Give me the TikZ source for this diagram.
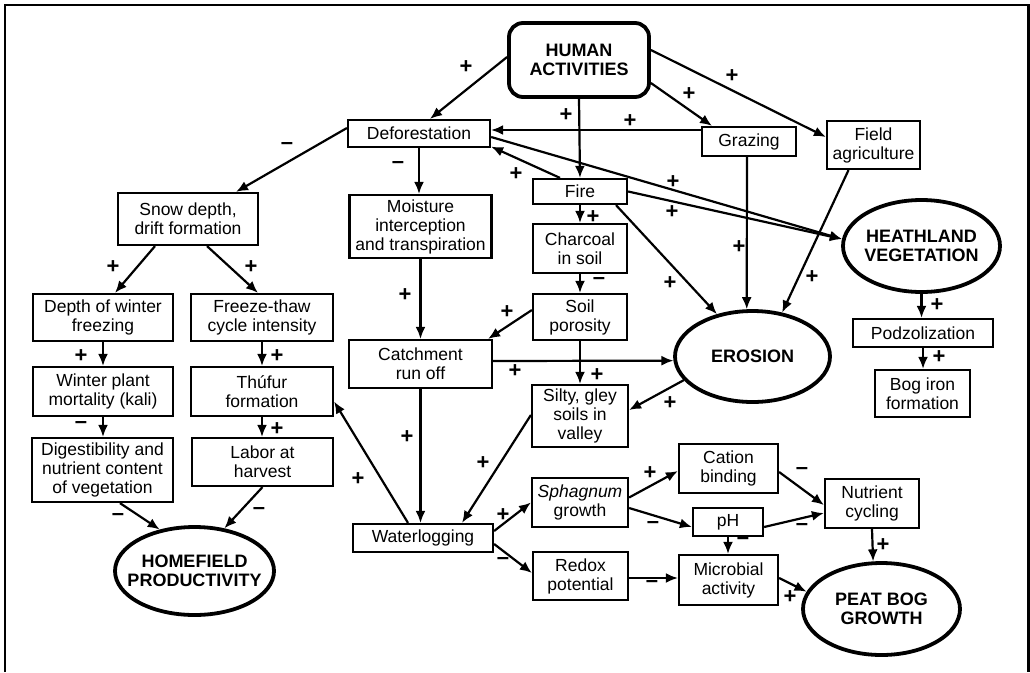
\documentclass[tikz,border=0pt]{standalone}
\usepackage{fontspec}
\setmainfont{Liberation Sans}
\usetikzlibrary{shapes.geometric,arrows.meta}
\newcommand\myrg{\fontsize{17.5}{19}\selectfont}
\newcommand\mybd{\fontsize{18}{19}\selectfont\bfseries}
\newcommand\mysg{\fontsize{22}{22}\selectfont\bfseries}
\newcommand\zw[1]{\makebox[0pt]{#1}}
\begin{document}
\begin{tikzpicture}[x=1pt,y=-1pt,
 box/.style={draw, line width=2.2pt, inner sep=1pt, align=center, font=\myrg},
 sz/.style 2 args={minimum width=#1pt, minimum height=#2pt},
 ell/.style={draw, ellipse, line width=3.8pt, inner sep=0pt, align=center, font=\mybd},
 sgn/.style={font=\mysg, inner sep=0pt},
 arr/.style={draw, line width=2.2pt, -{Latex[length=12pt,width=10pt]}},
]
\useasboundingbox (0,0) rectangle (1030,672);
\draw[line width=2.2pt] (5,672) -- (5,5) -- (1028.5,5) -- (1028.5,672);

% nodes
\node[box, rounded corners=14pt, line width=3.8pt, font=\mybd, sz={140}{74}] (ha) at (579,60) {HUMAN\\ACTIVITIES};
\node[box, sz={142}{27}] (defo) at (419,133.5) {Deforestation};
\node[box, sz={94}{29}] (graz) at (749,141.5) {Grazing};
\node[box, sz={93}{48}] (field) at (873.5,145) {Field\\agriculture};
\node[box, sz={94}{25}] (fire) at (580,191.5) {Fire};
\node[box, sz={94}{49}] (char) at (580,248.5) {Charcoal\\in soil};
\node[box, sz={94}{46}] (poro) at (580,317) {Soil\\porosity};
\node[box, sz={96}{62}] (silty) at (580,416) {Silty, gley\\soils in\\valley};
\node[ell, sz={155}{91}] (eros) at (752.5,356.5) {\zw{EROSION}};
\node[ell, sz={157}{92}] (heath) at (921.5,246) {\zw{HEATHLAND}\\\zw{VEGETATION}};
\node[box, sz={140}{28}] (podz) at (923,333) {Podzolization};
\node[box, sz={95}{47}] (bog) at (922.5,393.5) {Bog iron\\formation};
\node[box, sz={140}{52}] (snow) at (188,219) {Snow depth,\\drift formation};
\node[box, sz={142}{63}] (moist) at (420.5,226.5) {Moisture\\interception\\and transpiration};
\node[box, sz={140}{47}] (depth) at (103,317.5) {Depth of winter\\freezing};
\node[box, sz={142}{47}] (freeze) at (262,317.5) {Freeze-thaw\\cycle intensity};
\node[box, sz={140}{49}] (winter) at (103,391.5) {Winter plant\\mortality (kali)};
\node[box, sz={142}{49}] (thufur) at (262,391.5) {Thúfur\\formation};
\node[box, sz={141}{64}] (digest) at (102.5,470) {Digestibility and\\nutrient content\\of vegetation};
\node[box, sz={141}{48}] (labor) at (262.5,462) {Labor at\\harvest};
\node[ell, sz={159}{88}] (home) at (194.5,571) {\zw{HOMEFIELD}\\\zw{PRODUCTIVITY}};
\node[box, sz={143}{48}] (catch) at (420.5,364) {Catchment\\run off};
\node[box, sz={140}{28}] (water) at (423,538) {Waterlogging};
\node[box, sz={96}{49}] (sphag) at (580,502.5) {\textit{Sphagnum}\\growth};
\node[box, sz={95}{48}] (redox) at (580.5,576) {Redox\\potential};
\node[box, sz={99}{49}] (cation) at (728.5,468.5) {Cation\\binding};
\node[box, sz={70}{28}] (ph) at (728,522) {pH};
\node[box, sz={99}{50}] (micro) at (728.5,580) {Microbial\\activity};
\node[box, sz={94}{49}] (nutr) at (872,503.5) {Nutrient\\cycling};
\node[ell, sz={157}{92}] (peat) at (881.5,609) {\zw{PEAT BOG}\\\zw{GROWTH}};

% connectors
\path[arr] ([yshift=3pt]ha.west) -- ([xshift=11pt]defo.north);
\path[arr] (ha.south) -- (fire.north);
\path[arr] ([yshift=-23pt]ha.east) -- ([xshift=-37pt]graz.north);
\path[arr] ([yshift=10pt]ha.east) -- ([yshift=8pt]field.west);
\path[arr] ([yshift=11.5pt]graz.west) -- ([yshift=3.5pt]defo.east);
\path[arr] ([xshift=-20pt]fire.north) -- ([yshift=1.5pt]defo.south east);
\path[arr] ([yshift=-3.5pt]defo.east) -- (heath.175);
\path[arr] (fire.east) -- (heath.175);
\path[arr] ([xshift=36pt]fire.south) -- (eros.130);
\path[arr] ([xshift=-2pt]graz.south) -- (eros.97);
\path[arr] ([xshift=-25pt]field.south) -- (eros.56);
\path[arr] (fire.south) -- (char.north);
\path[arr] (char.south) -- (poro.north);
\path[arr] ([yshift=7pt]poro.west) -- ([xshift=-5pt]catch.north east);
\path[arr] (poro.south) -- (silty.north);
\path[arr] ([yshift=3pt]catch.east) -- (eros.183);
\path[arr] (eros.199) -- ([yshift=6pt]silty.east);
\path[arr] (defo.south) -- (defo.south |- moist.north);
\path[arr] ([yshift=5.5pt]defo.west) -- ([xshift=48pt]snow.north);
\path[arr] (moist.south) -- (catch.north);
\path[arr] (catch.south) -- (catch.south |- water.north);
\path[arr] ([yshift=1pt]silty.west) -- ([xshift=39pt]water.north);
\path[arr] ([xshift=-15pt]water.north) -- ([yshift=-10pt]thufur.east);
\path[arr] ([xshift=-33pt]snow.south) -- ([xshift=12pt]depth.north);
\path[arr] ([xshift=19pt]snow.south) -- ([xshift=-4pt]freeze.north);
\path[arr] (depth.south) -- (winter.north);
\path[arr] (freeze.south) -- (thufur.north);
\path[arr] (winter.south) -- (winter.south |- digest.north);
\path[arr] (thufur.south) -- (thufur.south |- labor.north);
\path[arr] ([xshift=17.5pt]digest.south) -- (home.130);
\path[arr] (labor.south) -- (home.55);
\path[arr] ([yshift=7pt]water.east) -- (sphag.west);
\path[arr] ([yshift=-6pt]water.east) -- ([yshift=3pt]redox.west);
\path[arr] ([yshift=5pt]sphag.east) -- ([yshift=-2.5pt]cation.west);
\path[arr] ([yshift=-5.5pt]sphag.east) -- ([yshift=-5pt]ph.west);
\path[arr] ([yshift=-3.5pt]cation.east) -- ([yshift=-1.5pt]nutr.west);
\path[arr] ([yshift=-5pt]ph.east) -- ([yshift=-9.5pt]nutr.west);
\path[arr] (ph.south) -- (ph.south |- micro.north);
\path[arr] ([yshift=-2pt]redox.east) -- ([yshift=2pt]micro.west);
\path[arr] (nutr.south) -- (peat.100);
\path[arr] ([yshift=2pt]micro.east) -- (peat.167);
\path[arr] (heath.south) -- (heath.south |- podz.north);
\path[arr] (podz.south) -- (podz.south |- bog.north);

% signs
\node[sgn] (s1) at (466,67) {+};
\node[sgn] (s2) at (566,115) {+};
\node[sgn] (s3) at (689,94) {+};
\node[sgn] (s4) at (732,76) {+};
\node[sgn] (s5) at (630,121) {+};
\node[sgn] (s6) at (516,174) {+};
\node[sgn] (s7) at (673,182) {+};
\node[sgn] (s8) at (672,212) {+};
\node[sgn] (s9) at (670,283) {+};
\node[sgn] (s10) at (739,247) {+};
\node[sgn] (s11) at (812,277) {+};
\node[sgn] (s12) at (593,217) {+};
\node[sgn] (s13) at (599,281) {\textendash};
\node[sgn] (s14) at (507,312) {+};
\node[sgn] (s15) at (597,375) {+};
\node[sgn] (s16) at (515,371) {+};
\node[sgn] (s17) at (670,403) {+};
\node[sgn] (s18) at (398,165) {\textendash};
\node[sgn] (s19) at (287,146) {\textendash};
\node[sgn] (s20) at (405,295) {+};
\node[sgn] (s21) at (407,437) {+};
\node[sgn] (s22) at (483,463) {+};
\node[sgn] (s23) at (358,479) {+};
\node[sgn] (s24) at (113,267) {+};
\node[sgn] (s25) at (251,267) {+};
\node[sgn] (s26) at (81,356) {+};
\node[sgn] (s27) at (277,356) {+};
\node[sgn] (s28) at (81,425) {\textendash};
\node[sgn] (s29) at (277,429) {+};
\node[sgn] (s30) at (118,517) {\textendash};
\node[sgn] (s31) at (259,511) {\textendash};
\node[sgn] (s32) at (503,515) {+};
\node[sgn] (s33) at (503,561) {\textendash};
\node[sgn] (s34) at (650,473) {+};
\node[sgn] (s35) at (653,525) {\textendash};
\node[sgn] (s36) at (802,471) {\textendash};
\node[sgn] (s37) at (802,527) {\textendash};
\node[sgn] (s38) at (743,541) {\textendash};
\node[sgn] (s39) at (652,584) {\textendash};
\node[sgn] (s40) at (883,545) {+};
\node[sgn] (s41) at (790,597) {+};
\node[sgn] (s42) at (937,305) {+};
\node[sgn] (s43) at (939,357) {+};
\end{tikzpicture}
\end{document}
